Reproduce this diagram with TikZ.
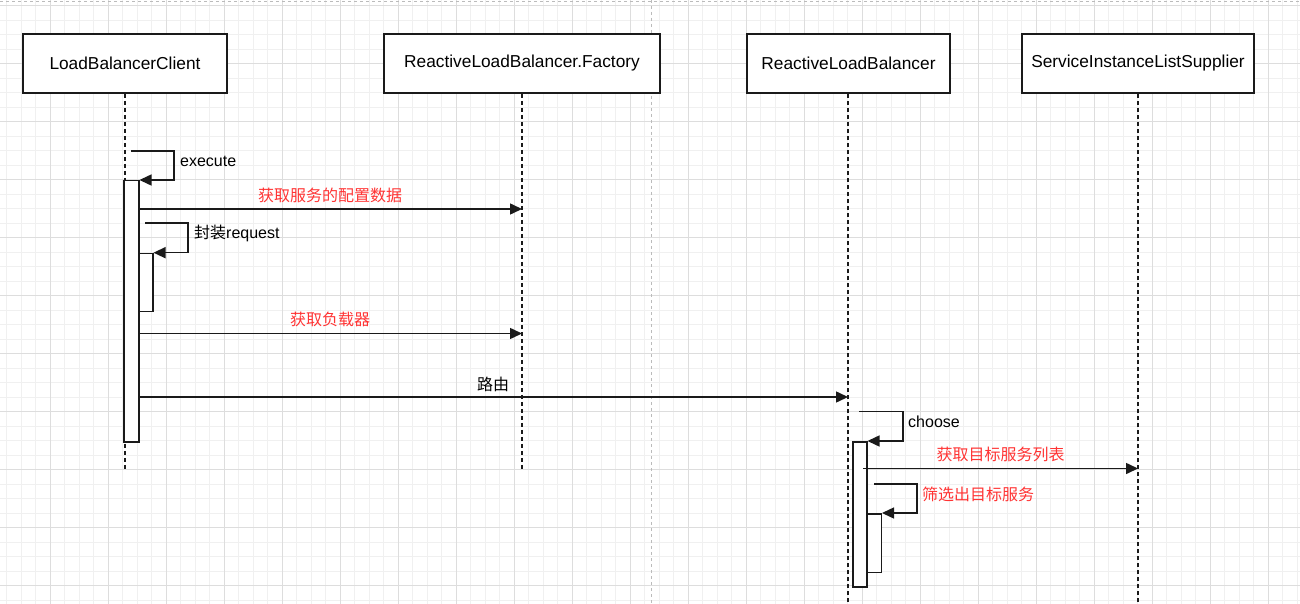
\documentclass[tikz,border=0pt]{standalone}
\usepackage{fontspec}
\setmainfont{Liberation Sans}
\newfontfamily\cjk{Noto Sans CJK SC}
\usepackage{tikz}
\usetikzlibrary{arrows.meta, positioning}
\definecolor{msgred}{HTML}{FF3333}
\definecolor{gridmajor}{HTML}{DDDDDD}
\definecolor{gridminor}{HTML}{F0F0F0}
\definecolor{pagebreak}{HTML}{BBBBBB}
\definecolor{edge}{HTML}{1A1A1A}
\tikzstyle{actor} = [
  rectangle, draw = edge, line width = 1.6, fill = white,
  minimum height = 59, inner sep = 0, text centered,
  font = \fontsize{17.3}{20}\selectfont
]
\tikzstyle{lifeline} = [draw = edge, line width = 1.5, dash pattern = on 4pt off 3pt]
\tikzstyle{actbar} = [rectangle, draw = edge, line width = 1.5, fill = white,
  inner sep = 0, anchor = north west]
\tikzstyle{msg} = [draw = edge, line width = 1.5, -{Triangle[length = 12pt, width = 11pt]}]
\tikzstyle{lbl} = [inner sep = 0, text = black, font = \fontsize{16}{19}\selectfont]
\tikzstyle{redlbl} = [lbl, text = msgred]

\begin{document}
\begin{tikzpicture}[x = 1pt, y = -1pt]
      \useasboundingbox [fill = white] (0, 0) rectangle (1300, 604);
      % grid
      \foreach \i in {0, ..., 90} {
        \draw [gridminor, line width = 0.8] (-7.7 + 14.5 * \i, 0) -- (-7.7 + 14.5 * \i, 604);
      }
      \foreach \i in {0, ..., 42} {
        \draw [gridminor, line width = 0.8] (0, -8.8 + 14.5 * \i) -- (1300, -8.8 + 14.5 * \i);
      }
      \foreach \i in {0, ..., 23} {
        \draw [gridmajor, line width = 0.9] (-7.7 + 58 * \i, 0) -- (-7.7 + 58 * \i, 604);
      }
      \foreach \i in {0, ..., 11} {
        \draw [gridmajor, line width = 0.9] (0, 5.7 + 58 * \i) -- (1300, 5.7 + 58 * \i);
      }
      \draw [pagebreak, dashed, line width = 0.8] (651.7, 0) -- (651.7, 604);
      \draw [pagebreak, dashed, line width = 0.8] (0, 1.5) -- (1300, 1.5);

      % actors
      \node [actor, minimum width = 204] (client) at (125, 63.5) {LoadBalancerClient};
      \node [actor, minimum width = 276] (factory) at (522, 63.5) {ReactiveLoadBalancer.Factory};
      \node [actor, minimum width = 203] (balancer) at (848.5, 63.5) {ReactiveLoadBalancer};
      \node [actor, minimum width = 232] (supplier) at (1138, 63.5) {ServiceInstanceListSupplier};

      % lifelines
      \coordinate (client-end) at (125, 470);
      \coordinate (factory-end) at (522, 470);
      \coordinate (balancer-end) at (848, 604);
      \coordinate (supplier-end) at (1138, 604);
      \draw [lifeline] (client) -- (client-end);
      \draw [lifeline] (factory) -- (factory-end);
      \draw [lifeline] (balancer.south -| balancer-end) -- (balancer-end);
      \draw [lifeline] (supplier) -- (supplier-end);

      % activations
      \node [actbar, minimum width = 15, minimum height = 261] (bar-client) at (123, 180) {};
      \node [actbar, minimum width = 14, minimum height = 58] (bar-wrap) at (138, 252.7) {};
      \node [actbar, minimum width = 14, minimum height = 145] (bar-balancer) at (852, 441) {};
      \node [actbar, minimum width = 14.5, minimum height = 58.5] (bar-filter) at (866, 513) {};

      % execute
      \coordinate (execute-a) at (131, 151);
      \draw [msg] (execute-a) -- ++(43, 0) |- (bar-client.north east);
      \node [lbl, anchor = west] (execute) at (180, 161) {execute};

      % config
      \coordinate (config-a) at (138, 209);
      \draw [msg] (config-a) -- node [redlbl, yshift = 14] (config) {\cjk 获取服务的配置数据} (config-a -| factory);

      % wrap request
      \coordinate (wrap-a) at (145, 223);
      \draw [msg] (wrap-a) -- ++(43, 0) |- (bar-wrap.north east);
      \node [lbl, anchor = west] (wrap) at (194, 233) {{\cjk 封装}request};

      % get balancer
      \coordinate (get-a) at (138, 333.5);
      \draw [msg] (get-a) -- node [redlbl, yshift = 14] (get) {\cjk 获取负载器} (get-a -| factory);

      % route
      \coordinate (route-a) at (138, 397);
      \draw [msg] (route-a) -- node [lbl, yshift = 13] (route) {\cjk 路由} (route-a -| balancer-end);

      % choose
      \coordinate (choose-a) at (859, 411.7);
      \draw [msg] (choose-a) -- ++(44, 0) |- (bar-balancer.north east);
      \node [lbl, anchor = west] (choose) at (908, 422) {choose};

      % list
      \coordinate (list-a) at (863, 468.5);
      \draw [msg] (list-a) -- node [redlbl, yshift = 14] (list) {\cjk 获取目标服务列表} (list-a -| supplier);

      % filter
      \coordinate (filter-a) at (874, 484);
      \draw [msg] (filter-a) -- ++(43, 0) |- (bar-filter.north east);
      \node [redlbl, anchor = west] (filter) at (922, 494) {\cjk 筛选出目标服务};
\end{tikzpicture}
\end{document}
